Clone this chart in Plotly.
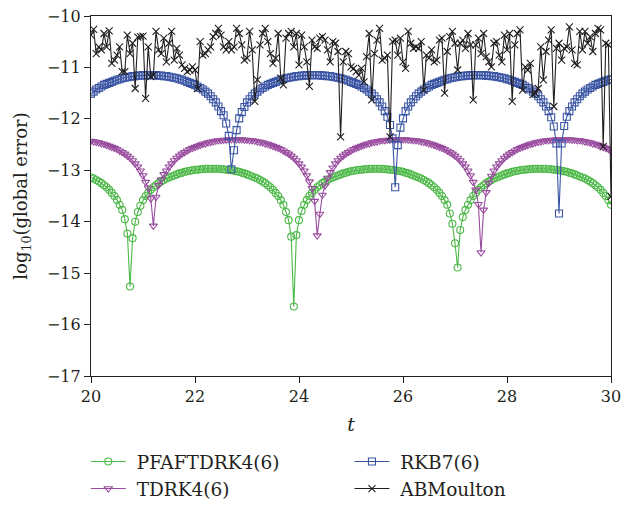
import numpy as np
import plotly.graph_objects as go

# sampling grid: t = 20 ... 30, step 0.05 (201 points)
t = np.round(np.linspace(20, 30, 201), 2)

pfaftdrk = [
    -13.14, -13.16, -13.19, -13.22, -13.25, -13.29, -13.33, -13.38, -13.44, -13.50,
    -13.58, -13.67, -13.77, -13.95, -14.23, -15.26, -14.32, -14.00, -13.81, -13.69,
    -13.58, -13.50, -13.44, -13.38, -13.33, -13.29, -13.25, -13.22, -13.19, -13.16,
    -13.14, -13.12, -13.10, -13.08, -13.06, -13.05, -13.03, -13.02, -13.01, -13.00,
    -12.99, -12.99, -12.98, -12.98, -12.97, -12.97, -12.97, -12.97, -12.97, -12.97,
    -12.98, -12.98, -12.99, -12.99, -13.00, -13.01, -13.02, -13.03, -13.05, -13.06,
    -13.08, -13.10, -13.12, -13.14, -13.16, -13.19, -13.22, -13.25, -13.29, -13.33,
    -13.38, -13.44, -13.50, -13.58, -13.67, -13.81, -13.97, -14.29, -15.65, -14.26,
    -13.97, -13.79, -13.67, -13.58, -13.50, -13.44, -13.38, -13.33, -13.29, -13.25,
    -13.22, -13.19, -13.16, -13.14, -13.12, -13.10, -13.08, -13.06, -13.05, -13.03,
    -13.02, -13.01, -13.00, -12.99, -12.99, -12.98, -12.98, -12.97, -12.97, -12.97,
    -12.97, -12.97, -12.97, -12.98, -12.98, -12.99, -12.99, -13.00, -13.01, -13.02,
    -13.03, -13.05, -13.06, -13.08, -13.10, -13.12, -13.14, -13.16, -13.19, -13.22,
    -13.25, -13.29, -13.33, -13.38, -13.44, -13.50, -13.58, -13.67, -13.84, -14.04,
    -14.42, -14.89, -14.16, -13.91, -13.77, -13.67, -13.58, -13.50, -13.44, -13.38,
    -13.33, -13.29, -13.25, -13.22, -13.19, -13.16, -13.14, -13.12, -13.10, -13.08,
    -13.06, -13.05, -13.03, -13.02, -13.01, -13.00, -12.99, -12.99, -12.98, -12.98,
    -12.97, -12.97, -12.97, -12.97, -12.97, -12.97, -12.98, -12.98, -12.99, -12.99,
    -13.00, -13.01, -13.02, -13.03, -13.05, -13.06, -13.08, -13.10, -13.12, -13.14,
    -13.16, -13.19, -13.22, -13.25, -13.29, -13.33, -13.38, -13.44, -13.50, -13.58,
    -13.67,
]

tdrk = [
    -12.43, -12.44, -12.45, -12.46, -12.48, -12.49, -12.51, -12.53, -12.55, -12.57,
    -12.59, -12.62, -12.65, -12.68, -12.72, -12.76, -12.81, -12.87, -12.93, -13.01,
    -13.10, -13.23, -13.34, -13.55, -14.08, -13.52, -13.29, -13.18, -13.08, -13.01,
    -12.93, -12.87, -12.81, -12.76, -12.72, -12.68, -12.65, -12.62, -12.59, -12.57,
    -12.55, -12.53, -12.51, -12.49, -12.48, -12.46, -12.45, -12.44, -12.43, -12.42,
    -12.42, -12.41, -12.41, -12.40, -12.40, -12.40, -12.40, -12.40, -12.40, -12.41,
    -12.41, -12.42, -12.42, -12.43, -12.44, -12.45, -12.46, -12.48, -12.49, -12.51,
    -12.53, -12.55, -12.57, -12.59, -12.62, -12.65, -12.68, -12.72, -12.76, -12.81,
    -12.87, -12.93, -13.01, -13.10, -13.22, -13.35, -13.60, -14.27, -13.85, -13.48,
    -13.30, -13.15, -13.04, -12.95, -12.87, -12.81, -12.76, -12.72, -12.68, -12.65,
    -12.62, -12.59, -12.57, -12.55, -12.53, -12.51, -12.49, -12.48, -12.46, -12.45,
    -12.44, -12.43, -12.42, -12.42, -12.41, -12.41, -12.40, -12.40, -12.40, -12.40,
    -12.40, -12.40, -12.41, -12.41, -12.42, -12.42, -12.43, -12.44, -12.45, -12.46,
    -12.48, -12.49, -12.51, -12.53, -12.55, -12.57, -12.59, -12.62, -12.65, -12.68,
    -12.72, -12.76, -12.81, -12.87, -12.93, -13.01, -13.10, -13.23, -13.38, -13.66,
    -14.60, -13.77, -13.43, -13.25, -13.11, -13.01, -12.93, -12.87, -12.81, -12.76,
    -12.72, -12.68, -12.65, -12.62, -12.59, -12.57, -12.55, -12.53, -12.51, -12.49,
    -12.48, -12.46, -12.45, -12.44, -12.43, -12.42, -12.42, -12.41, -12.41, -12.40,
    -12.40, -12.40, -12.40, -12.40, -12.40, -12.41, -12.41, -12.42, -12.42, -12.43,
    -12.44, -12.45, -12.46, -12.48, -12.49, -12.51, -12.53, -12.55, -12.57, -12.59,
    -12.62,
]

rkb7 = [
    -11.51, -11.47, -11.43, -11.40, -11.37, -11.34, -11.32, -11.30, -11.28, -11.26,
    -11.24, -11.23, -11.21, -11.20, -11.19, -11.18, -11.17, -11.17, -11.16, -11.16,
    -11.15, -11.15, -11.15, -11.15, -11.15, -11.15, -11.16, -11.16, -11.17, -11.17,
    -11.18, -11.19, -11.20, -11.21, -11.23, -11.24, -11.26, -11.28, -11.30, -11.32,
    -11.34, -11.37, -11.40, -11.43, -11.47, -11.51, -11.56, -11.62, -11.68, -11.76,
    -11.85, -11.93, -12.09, -12.33, -12.98, -12.61, -12.22, -11.99, -11.87, -11.77,
    -11.68, -11.62, -11.56, -11.51, -11.47, -11.43, -11.40, -11.37, -11.34, -11.32,
    -11.30, -11.28, -11.26, -11.24, -11.23, -11.21, -11.20, -11.19, -11.18, -11.17,
    -11.17, -11.16, -11.16, -11.15, -11.15, -11.15, -11.15, -11.15, -11.15, -11.16,
    -11.16, -11.17, -11.17, -11.18, -11.19, -11.20, -11.21, -11.23, -11.24, -11.26,
    -11.28, -11.30, -11.32, -11.34, -11.37, -11.40, -11.43, -11.47, -11.51, -11.56,
    -11.62, -11.68, -11.76, -11.85, -11.96, -12.12, -12.38, -13.33, -12.51, -12.17,
    -11.99, -11.85, -11.76, -11.68, -11.62, -11.56, -11.51, -11.47, -11.43, -11.40,
    -11.37, -11.34, -11.32, -11.30, -11.28, -11.26, -11.24, -11.23, -11.21, -11.20,
    -11.19, -11.18, -11.17, -11.17, -11.16, -11.16, -11.15, -11.15, -11.15, -11.15,
    -11.15, -11.15, -11.16, -11.16, -11.17, -11.17, -11.18, -11.19, -11.20, -11.21,
    -11.23, -11.24, -11.26, -11.28, -11.30, -11.32, -11.34, -11.37, -11.40, -11.43,
    -11.47, -11.51, -11.56, -11.62, -11.68, -11.76, -11.85, -11.97, -12.15, -12.48,
    -13.84, -12.48, -12.14, -11.96, -11.85, -11.76, -11.68, -11.62, -11.56, -11.51,
    -11.47, -11.43, -11.40, -11.37, -11.34, -11.32, -11.30, -11.28, -11.26, -11.24,
    -11.23,
]

abmoulton = [
    -10.37, -10.26, -10.73, -10.60, -10.66, -10.34, -10.60, -10.29, -10.92, -10.86,
    -10.76, -10.60, -11.08, -11.08, -10.37, -10.73, -10.53, -11.41, -10.41, -10.40,
    -10.39, -11.60, -10.60, -11.18, -11.15, -10.30, -10.66, -10.73, -10.43, -10.89,
    -10.53, -10.30, -10.86, -10.63, -10.76, -10.95, -11.02, -11.08, -11.05, -10.99,
    -11.05, -11.41, -10.50, -10.76, -10.73, -10.66, -10.60, -10.40, -10.34, -10.24,
    -10.37, -10.60, -10.66, -10.50, -10.66, -10.60, -10.24, -10.34, -10.56, -10.86,
    -10.82, -10.30, -10.66, -11.66, -11.24, -10.56, -10.34, -10.24, -10.50, -10.73,
    -10.92, -10.82, -10.34, -11.21, -11.34, -10.43, -10.34, -10.30, -10.60, -10.34,
    -10.95, -10.37, -10.60, -10.89, -11.37, -10.47, -10.60, -10.63, -10.43, -10.40,
    -10.47, -10.66, -10.89, -10.50, -10.53, -10.69, -12.35, -10.89, -10.69, -10.73,
    -10.99, -11.02, -11.08, -11.15, -11.02, -11.28, -10.79, -10.34, -11.63, -10.73,
    -10.47, -10.24, -10.86, -10.82, -10.76, -12.35, -10.50, -10.47, -10.76, -10.43,
    -10.89, -11.02, -10.30, -10.53, -10.63, -10.60, -10.63, -10.50, -11.44, -10.76,
    -10.82, -10.66, -10.89, -10.86, -10.47, -10.43, -11.50, -10.69, -10.40, -10.30,
    -10.53, -11.05, -10.53, -10.47, -10.63, -10.34, -10.56, -11.63, -10.56, -10.43,
    -10.73, -10.34, -10.79, -10.89, -10.99, -10.53, -10.50, -10.76, -10.89, -10.37,
    -10.66, -10.34, -11.66, -10.56, -10.34, -10.27, -11.44, -10.99, -11.05, -10.92,
    -11.53, -11.50, -11.41, -10.60, -11.24, -10.69, -10.47, -10.27, -11.76, -10.63,
    -10.53, -10.86, -10.63, -10.60, -10.21, -10.66, -10.92, -10.95, -10.30, -10.66,
    -10.30, -10.53, -10.40, -10.69, -10.34, -10.24, -10.27, -12.54, -10.53, -10.56,
    -13.51,
]

x_ticks = [20, 22, 24, 26, 28, 30]
y_ticks = [-17, -16, -15, -14, -13, -12, -11, -10]
y_tick_labels = ["\u221217", "\u221216", "\u221215", "\u221214", "\u221213", "\u221212", "\u221211", "\u221210"]

FONT = "DejaVu Serif"
TXT = "#231f20"
PAD = "\u00a0"  # small gap between legend symbol and label

# name, values, colour, symbol, legend column
series = [
    ("PFAFTDRK4(6)", pfaftdrk, "#4cb847", "circle-open", "legend"),
    ("TDRK4(6)", tdrk, "#994c9f", "triangle-down-open", "legend"),
    ("RKB7(6)", rkb7, "#3a54a4", "square-open", "legend2"),
    ("ABMoulton", abmoulton, "#231f20", "x-thin-open", "legend2"),
]

fig = go.Figure()
for name, ys, col, sym, leg in series:
    fig.add_trace(go.Scatter(
        x=t, y=ys, name=PAD + name, mode="lines+markers",
        line=dict(color=col, width=1.1),
        marker=dict(symbol=sym, size=7, color=col, line=dict(color=col, width=1.1)),
        legend=leg,
    ))

legend_common = dict(
    orientation="v", xanchor="left", y=-0.186, yanchor="top", itemwidth=35,
    bgcolor="rgba(0,0,0,0)", tracegroupgap=0, borderwidth=0,
    font=dict(family=FONT, size=18.5, color=TXT),
)

fig.update_layout(
    width=622, height=510,
    margin=dict(l=90.5, r=10.5, t=16, b=134, autoexpand=False),
    paper_bgcolor="white", plot_bgcolor="white",
    font=dict(family=FONT, size=16, color=TXT),
    showlegend=True,
    legend=dict(x=-0.01, **legend_common),
    legend2=dict(x=0.497, **legend_common),
    xaxis=dict(
        range=[20, 30], tickvals=x_ticks, ticks="outside", ticklen=6, tickwidth=1.2,
        tickcolor=TXT, showline=True, linecolor=TXT, linewidth=1.2, mirror=True,
        showgrid=False, zeroline=False,
        title=dict(text="<i>t</i>", standoff=12, font=dict(family=FONT, size=19)),
        tickfont=dict(family=FONT, size=16),
    ),
    yaxis=dict(
        range=[-17, -10], tickvals=y_ticks, ticktext=y_tick_labels, ticks="outside",
        ticklen=6, tickwidth=1.2, tickcolor=TXT, showline=True, linecolor=TXT,
        linewidth=1.2, mirror=True, showgrid=False, zeroline=False,
        title=dict(text="log<sub>10</sub>(global error)", standoff=14, font=dict(family=FONT, size=18)),
        tickfont=dict(family=FONT, size=16),
    ),
)

fig.write_html("out.html", config={"displayModeBar": False},
               post_script="document.body.style.margin='0';")
